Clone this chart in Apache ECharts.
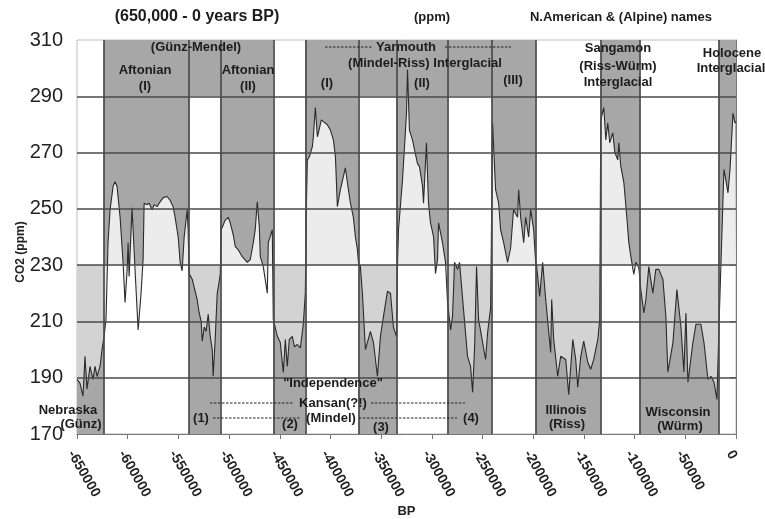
<!DOCTYPE html>
<html><head><meta charset="utf-8">
<script src="https://cdn.jsdelivr.net/npm/echarts@6/dist/echarts.min.js"></script>
<style>html,body{margin:0;padding:0;background:#fff}#c{width:765px;height:519px}</style>
</head><body><div id="c"></div>
<script>
// CO2 record (years BP, ppm)
const bp = [-650000,-647000,-644100,-642100,-640100,-637200,-634200,-632200,-630200,-627300,-625300,-623300,-621400,-619400,-617400,-614400,-612500,-610500,-607500,-604600,-602600,-600600,-599600,-598600,-595700,-592700,-589700,-586800,-584800,-583800,-582800,-580900,-578900,-575900,-573900,-571000,-568000,-565000,-561100,-558100,-555200,-553200,-550200,-548300,-546300,-544300,-541300,-540400,
-539400,-536400,-535400,-531500,-529500,-527500,-526500,-524500,-522600,-520600,-518600,-516600,-515700,-513700,-511700,-510700,-508700,
-507800,-503800,-500800,-498900,-495900,-493900,-491000,-487000,-484000,-482100,-479100,-476100,-474200,-472200,-470200,-469200,-466300,-462300,-461300,-457400,
-456400,-452400,-449500,-446500,-444500,-442600,-440600,-437600,-435600,-432700,-429700,-426800,-424800,
-423800,-422800,-420800,-417900,-416900,-414900,-412900,-411900,-409000,-407000,-403100,-400100,-397100,-395100,-393200,-390200,-385300,-383300,-380300,-377400,-375400,-373400,-372400,
-370500,-368500,-365500,-360600,-357600,-353700,-350700,-347700,-343800,-340800,-337900,-334900,
-333900,-332900,-329000,-327000,-325000,-324000,-322100,-319100,-317100,-314100,-312200,-309200,-308200,-305300,-303300,-301300,-298300,-296400,-294400,-293400,-289500,-286500,
-284500,-281500,-279600,-277600,-274600,-272700,-268700,-264800,-261800,-259800,-257800,-255900,-253900,-249900,-247000,-245000,-242000,
-240100,-237100,-234100,-232200,-229200,-225300,-222300,-219400,-215400,-214400,-212400,-209400,-207500,-204500,-202500,-199600,-197600,
-196600,-193600,-190700,-187700,-182800,-181800,-179800,-175900,-172900,-167900,-165000,-161000,-158100,-156100,-153100,-150200,-146200,-143300,-140300,-136300,-134400,
-133400,-130400,-128400,-126500,-124500,-121500,-119500,-116600,-115600,-113600,-110600,-107700,-105700,-103700,-100800,-98800,-95800,
-93900,-90900,-88900,-86000,-82000,-79100,-76100,-72100,-69200,-67200,-62200,-58300,-54300,-51400,-49400,-47400,-42500,-39500,-34600,-31600,-27700,-24700,-21700,-18800,-16800,
-14800,-11900,-9900,-7900,-5900,-3000,-1000,0];
const co2 = [189.4,188,183.5,197.6,186,194,189.4,194,190.5,194,200,204.7,210.7,238,249.7,258,259.6,258,247,231,216.7,228,238,226,250.4,228,207,220,232,252,252.6,251.5,252,249.7,251.5,250.8,252.5,254,254.4,253,250.8,247,240,231,228,240,249.7,242.6,
227,225,225.6,217.8,213,210,203,208,206.5,212.5,204.7,200,190.5,203.6,220,222,226.7,
242.6,246,247,245,240.8,236.6,235.5,233,231.8,231,232,238,242.6,252.5,243.7,233,229.5,220,238,242.6,
210.7,204.7,202.5,191.9,203.6,194,203.6,204.7,201,201.8,200.6,209,220,
249.7,267.4,268.5,272,275.6,286,275.6,277,281.6,281,279.9,278,274.5,268.5,250.8,256.8,264.6,259.3,252,247,240,235.5,231,
229.5,220,200,206.5,202.5,190.5,204.7,211.8,220.7,220,208,204.7,
229.5,242.6,260,272,284,299.4,278,274.5,271,266,265,258,252,273.5,252,245,240,227,232,245,238,231,
216.7,207,211.8,231,228.5,231,214,197.6,194,184.8,201,229.5,210.7,202.5,196.5,206,215,
280.5,256.8,252,242.6,238,231,236,249.7,247,256.8,247,238,247,240,249.7,242.6,231,
229.5,218.9,231,217.8,199,217.8,203.6,190.5,197.6,196.5,184,203.6,196.5,186.6,197.6,203,195.5,193,196.5,203.6,210.7,
281.6,286,274.5,280.5,273.5,277,270,267.4,273.5,265,259.3,247,238,233,226.7,231,229,
221.3,213,217.8,229.5,220,228.5,228.5,225,211.8,192,202.5,221.3,208,192,213,188.4,202.5,209,209,202.5,189.4,190.5,188.4,182.3,208,
231,264,260,255.7,264,284,280.5,281];

// glacial / interglacial periods (years BP)
const periodStart = [-650000,-623300,-539400,-508700,-456400,-424800,-372400,-334900,-284500,-241000,-197600,-133400,-95000,-17000];
const periodEnd   = [-623300,-539400,-508700,-456400,-424800,-372400,-334900,-284500,-241000,-197600,-133400,-95000,-17000,0];
const periodKind  = ['G','I','G','I','G','I','G','I','G','I','G','I','G','I'];
const headerBandPeriods = [2,6,8];
const gridLevels = [190,210,230,250,270,290];

const DARK = '#a7a7a7', LIGHT_I = '#ececec', LIGHT_G = '#d3d3d3', GRIDC = '#4a4a4a';
const FONT = '"Liberation Sans", Arial, sans-serif';

const areas = [];
periodStart.forEach((s, i) => {
  const e = periodEnd[i];
  if (periodKind[i] === 'I') areas.push([{xAxis: s, yAxis: 230}, {xAxis: e, yAxis: 310}]);
  else areas.push([{xAxis: s, yAxis: 170}, {xAxis: e, yAxis: 230}]);
});
headerBandPeriods.forEach(i => areas.push([{xAxis: periodStart[i], yAxis: 290}, {xAxis: periodEnd[i], yAxis: 310}]));

const lines = [];
periodStart.slice(1).forEach(v => lines.push({xAxis: v}));
gridLevels.forEach(v => lines.push({yAxis: v}));

const pieces = periodStart.map((s, i) => {
  const p = {gte: s, color: periodKind[i] === 'I' ? LIGHT_I : LIGHT_G};
  if (i < periodStart.length - 1) p.lt = periodEnd[i]; else p.lte = periodEnd[i];
  return p;
});

function T(text, x, y, size, align) {
  return {type: 'text', x: x, y: y, z: 100, silent: true,
    style: {text: text, fill: '#1c1c1c', font: 'bold ' + (size || 13) + 'px ' + FONT,
      align: align || 'center', verticalAlign: 'middle', textAlign: align || 'center', textVerticalAlign: 'middle'}};
}
function D(x1, y1, x2, y2) {
  return {type: 'line', z: 100, silent: true, shape: {x1: x1, y1: y1, x2: x2, y2: y2},
    style: {stroke: '#222', lineWidth: 1.2, lineDash: [2.5, 1.5]}};
}

const chart = echarts.init(document.getElementById('c'), null, {renderer: 'canvas'});
chart.setOption({
  animation: false,
  backgroundColor: '#fff',
  textStyle: {fontFamily: FONT},
  grid: {left: 77, right: 29, top: 40, bottom: 85, show: true, borderColor: '#bdbdbd', borderWidth: 1,
    containLabel: false, outerBoundsMode: 'none'},
  xAxis: {
    type: 'value', min: -650000, max: 0, interval: 50000,
    name: 'BP', nameLocation: 'middle', nameGap: 71, nameMoveOverlap: false,
    nameTextStyle: {fontSize: 13, fontWeight: 'bold', color: '#222'},
    axisLine: {show: true, lineStyle: {color: '#777', width: 1}},
    axisTick: {show: true, length: 5, lineStyle: {color: '#777'}},
    splitLine: {show: false},
    axisLabel: {rotate: -60, margin: 14, verticalAlign: 'top', fontSize: 14, fontWeight: 'bold', color: '#222', formatter: v => String(v)}
  },
  yAxis: {
    type: 'value', min: 170, max: 310, interval: 20,
    name: 'CO2 (ppm)', nameLocation: 'middle', nameGap: 50, nameMoveOverlap: false,
    nameTextStyle: {fontSize: 12, fontWeight: 'bold', color: '#222', padding: [0, 30, 0, 0]},
    axisLine: {show: true, lineStyle: {color: '#777', width: 1}},
    axisTick: {show: true, length: 6, lineStyle: {color: '#777'}},
    splitLine: {show: false},
    axisLabel: {fontSize: 20, color: '#222', margin: 14}
  },
  visualMap: {show: false, type: 'piecewise', dimension: 0, seriesIndex: 1, pieces: pieces},
  series: [
    {type: 'line', data: [], z: 1, silent: true,
      markArea: {silent: true, z: 1, itemStyle: {color: DARK}, data: areas}},
    {type: 'line', z: 3, silent: true, symbol: 'none', showSymbol: false,
      data: bp.map((x, i) => [x, co2[i]]),
      lineStyle: {color: '#2a2a2a', width: 1.1},
      areaStyle: {origin: 230, opacity: 1}},
    {type: 'line', data: [], z: 5, silent: true,
      markLine: {silent: true, z: 5, symbol: ['none', 'none'], label: {show: false},
        lineStyle: {color: GRIDC, width: 1.7, type: 'solid'}, data: lines}}
  ],
  graphic: [
    T('(650,000 - 0 years BP)', 197, 17, 16),
    T('(ppm)', 432, 17, 13),
    T('N.American & (Alpine) names', 621, 17, 13),
    T('(Günz-Mendel)', 196, 47),
    T('Aftonian', 145, 70), T('(I)', 145, 86),
    T('Aftonian', 248, 70), T('(II)', 248, 86),
    D(325, 47, 372, 47), T('Yarmouth', 406, 47), D(445, 47, 511, 47),
    T('(Mindel-Riss) Interglacial', 425, 63),
    T('(I)', 327, 83), T('(II)', 422, 83), T('(III)', 513, 80),
    T('Sangamon', 618, 48), T('(Riss-Würm)', 618, 66), T('Interglacial', 618, 82),
    T('Holocene', 732, 53), T('Interglacial', 731, 68),
    T('Nebraska', 68, 410), T('(Günz)', 81, 424),
    T('(1)', 201, 418),
    T('"Independence"', 333, 383),
    D(210, 403, 294, 403), T('Kansan(?!)', 333, 403), D(371, 403, 465, 403),
    D(213, 418, 300, 418), T('(2)', 290, 424), T('(Mindel)', 331, 418), D(359, 418, 457, 418),
    T('(3)', 381, 427), T('(4)', 471, 418),
    T('Illinois', 566, 410), T('(Riss)', 567, 424),
    T('Wisconsin', 678, 412), T('(Würm)', 680, 426)
  ]
});
</script></body></html>
